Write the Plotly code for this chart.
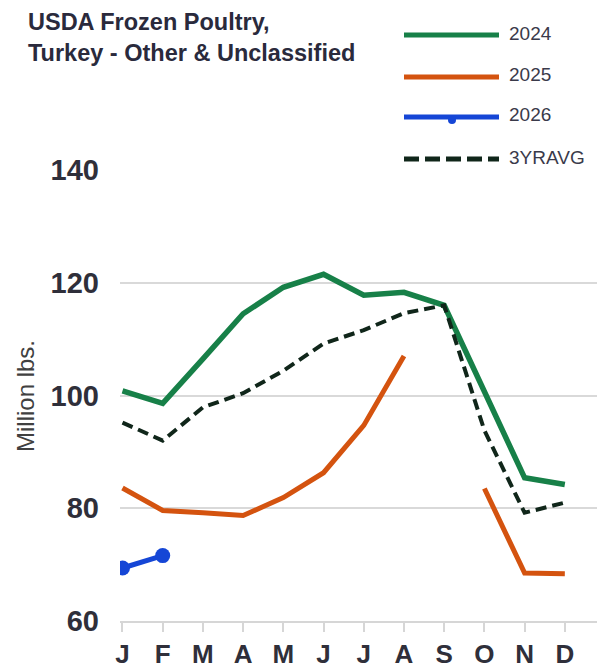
import plotly.graph_objects as go

# Month positions and labels
months = ["J", "F", "M", "A", "M", "J", "J", "A", "S", "O", "N", "D"]
month_idx = list(range(12))

# Frozen turkey stocks (million lbs.)
y2024 = [100.8, 98.6, 106.5, 114.5, 119.2, 121.5, 117.8, 118.3, 116.0, 100.8, 85.4, 84.2]
y2025 = [83.6, 79.6, 79.2, 78.7, 81.9, 86.3, 94.7, 107.0, None, 83.5, 68.5, 68.4]
y2026 = [69.4, 71.6]
avg3yr = [95.2, 92.0, 97.9, 100.4, 104.4, 109.2, 111.6, 114.6, 116.0, 93.8, 79.2, 81.0]

series_names = ["2024", "2025", "2026", "3YRAVG"]
y_ticks = [60, 80, 100, 120, 140]

GREEN = "#178048"
ORANGE = "#d4530f"
BLUE = "#1546d6"
AVG = "#10261a"

W, H = 602, 668
L, R, T, B = 120, 5, 170, 47
PW, PH = W - L - R, H - T - B


def px(xp):
    return (xp - L) / PW


def py(yp):
    return (H - B - yp) / PH


fig = go.Figure()
fig.add_trace(go.Scatter(x=month_idx, y=y2024, mode="lines",
                         line=dict(color=GREEN, width=5.5), name=series_names[0]))
fig.add_trace(go.Scatter(x=month_idx, y=y2025, mode="lines", connectgaps=False,
                         line=dict(color=ORANGE, width=5), name=series_names[1]))
fig.add_trace(go.Scatter(x=month_idx, y=avg3yr, mode="lines",
                         line=dict(color=AVG, width=4, dash="11px,6px"), name=series_names[3]))
fig.add_trace(go.Scatter(x=month_idx[:len(y2026)], y=y2026, mode="lines+markers",
                         line=dict(color=BLUE, width=5),
                         marker=dict(color=BLUE, size=15), name=series_names[2]))

# Hand-drawn legend block in the top-right corner
legend_rows = [
    (series_names[0], GREEN, 35, "solid"),
    (series_names[1], ORANGE, 77, "solid"),
    (series_names[2], BLUE, 117, "solid"),
    (series_names[3], AVG, 159, "15px,6px"),
]
shapes = []
annotations = []
for name, color, yp, dash in legend_rows:
    shapes.append(dict(type="line", xref="paper", yref="paper",
                       x0=px(404), x1=px(499), y0=py(yp), y1=py(yp),
                       line=dict(color=color, width=5, dash=dash)))
    annotations.append(dict(text=name, xref="paper", yref="paper",
                            x=px(507), y=py(yp - 2), xanchor="left", yanchor="middle",
                            showarrow=False,
                            font=dict(family="Arial", size=19, color="#3a3a4a")))
shapes.append(dict(type="circle", xref="paper", yref="paper",
                   x0=px(448), x1=px(456), y0=py(116), y1=py(124),
                   fillcolor=BLUE, line=dict(color=BLUE, width=0)))

annotations.append(dict(text="USDA Frozen Poultry,<br>Turkey - Other & Unclassified",
                        xref="paper", yref="paper", x=px(26), y=py(7),
                        xanchor="left", yanchor="top", align="left", showarrow=False,
                        font=dict(family="Arial", size=23.5,
                                  color="#2a2a3c", weight="bold")))
annotations.append(dict(text="Million lbs.", xref="paper", yref="paper",
                        x=px(25), y=py(396), textangle=-90,
                        xanchor="center", yanchor="middle", showarrow=False,
                        font=dict(family="Arial", size=24, color="#404040")))

fig.update_layout(
    width=W, height=H,
    margin=dict(l=L, r=R, t=T, b=B, pad=0, autoexpand=False),
    paper_bgcolor="white", plot_bgcolor="white",
    showlegend=False,
    shapes=shapes, annotations=annotations,
    xaxis=dict(range=[-0.062, 11.8], tickmode="array", tickvals=month_idx, ticktext=months,
               showgrid=False, zeroline=False, automargin=False,
               showline=True, linecolor="#d6d6d6", linewidth=2,
               ticks="outside", ticklen=9, tickwidth=2, tickcolor="#d6d6d6",
               ticklabelstandoff=0,
               tickfont=dict(family="Arial", size=26, color="#2f2f3a", weight="bold")),
    yaxis=dict(range=[60, 140], tickmode="array", tickvals=y_ticks,
               showgrid=True, gridcolor="#d9d9d9", gridwidth=2,
               zeroline=False, showline=False, ticks="", automargin=False,
               ticklabelstandoff=20,
               tickfont=dict(family="Arial", size=29, color="#2f2f3a", weight="bold")),
)

fig.write_html("out.html")
